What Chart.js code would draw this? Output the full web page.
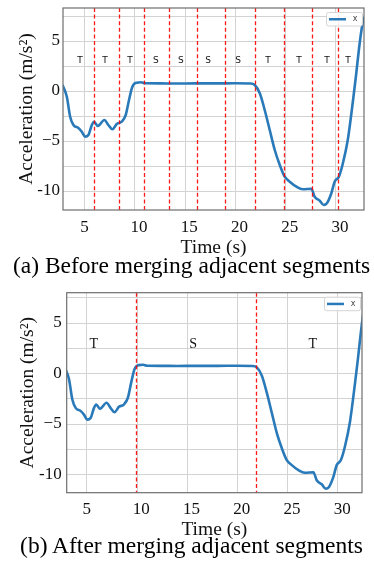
<!DOCTYPE html>
<html>
<head>
<meta charset="utf-8">
<script src="https://cdn.jsdelivr.net/npm/chart.js@4.4.1/dist/chart.umd.min.js"></script>
<style>
    html, body { margin: 0; padding: 0; background: #fff; overflow: hidden; }
    #wrap { position: relative; width: 374px; height: 567px; }
    canvas { position: absolute; left: 0; }
    .cap {
        position: absolute; left: -8px; width: 399px; text-align: center;
        font-family: "Liberation Serif", serif; font-size: 23.5px; line-height: 1; color: #000;
        white-space: nowrap;
    }
</style>
</head>
<body>
<div id="wrap">
    <canvas id="chartA" width="374" height="262" style="top:0px"></canvas>
    <div class="cap" style="top:254px">(a) Before merging adjacent segments</div>
    <canvas id="chartB" width="374" height="262" style="top:284px"></canvas>
    <div class="cap" style="top:534px">(b) After merging adjacent segments</div>
</div>
<script>
// acceleration signal
const timeS = [2.8, 3.23, 3.56, 3.89, 4.38, 4.72, 5.05, 5.38, 5.72, 5.94, 6.31, 6.97, 7.36, 7.76, 8.2, 8.69, 9.09, 9.42, 9.75, 10.18,
    10.61, 11.0, 12.5, 14, 16, 18, 20, 21.5, 21.93, 22.43, 22.92, 23.42, 23.92, 24.42, 24.91, 25.41, 26.07, 26.73, 27.56, 27.89,
    28.39, 28.79, 29.11, 29.55, 29.88, 30.3, 30.7, 31.2, 31.7, 32.0, 32.3, 32.55, 32.8];
const accelX = [0.6, -0.57, -2.57, -3.4, -3.7, -4.07, -4.57, -4.4, -3.4, -3.07, -3.5, -2.9, -3.4, -3.83, -3.3, -3.07, -2.4, -0.9, 0.43, 0.83,
    0.87, 0.77, 0.76, 0.75, 0.76, 0.76, 0.77, 0.75, 0.6, -0.23, -1.9, -3.9, -5.9, -7.4, -8.57, -9.07, -9.57, -9.83, -9.77, -10.57,
    -10.97, -11.4, -11.23, -10.23, -9.07, -8.57, -7.23, -4.8, -1.0, 1.5, 4.2, 6.1, 7.4];

// ticks
const xTicks = [5, 10, 15, 20, 25, 30];
const xTickLabels = ['5', '10', '15', '20', '25', '30'];
const yGrid = [-10, -7.5, -5, -2.5, 0, 2.5, 5, 7.5];
const yTickLabels = ['-10', '', '−5', '', '0', '', '5', ''];

// (a) segment boundaries and labels
const boundsA = [5.96, 8.45, 10.86, 13.41, 16.22, 19.0, 21.95, 24.83, 27.64, 30.22];
const segLabelsA = ['T', 'T', 'T', 'S', 'S', 'S', 'S', 'T', 'T', 'T', 'T'];
const segCentersA = [4.55, 7.04, 9.52, 12.1, 14.58, 17.29, 20.27, 23.25, 26.33, 29.11, 31.2];
const segLevelA = 3.0;

// (b) merged segments
const boundsB = [9.9, 21.85];
const segLabelsB = ['T', 'S', 'T'];
const segCentersB = [5.7, 15.6, 27.5];
const segLevelB = 2.85;

const seriesName = 'x';

// draws dashed boundaries, segment letters, frame and legend
const segmentPlugin = {
    id: 'segments',
    afterDatasetsDraw(chart, args, opts) {
        const { ctx, chartArea: a, scales } = chart;
        ctx.save();
        ctx.beginPath();
        ctx.rect(a.left, a.top, a.width, a.height);
        ctx.clip();
        ctx.strokeStyle = 'rgba(255, 0, 0, 0.9)';
        ctx.lineWidth = 1.3;
        ctx.setLineDash([4, 2.6]);
        opts.bounds.forEach(function (t) {
            const px = Math.round(scales.x.getPixelForValue(t)) + 0.5;
            ctx.beginPath();
            ctx.moveTo(px, a.top);
            ctx.lineTo(px, a.bottom);
            ctx.stroke();
        });
        ctx.setLineDash([]);
        ctx.fillStyle = '#111';
        ctx.font = opts.font;
        ctx.textAlign = 'center';
        ctx.textBaseline = 'middle';
        opts.labels.forEach(function (lab, i) {
            ctx.fillText(lab, scales.x.getPixelForValue(opts.centers[i]), scales.y.getPixelForValue(opts.level));
        });
        ctx.restore();
    },
    afterDraw(chart) {
        const { ctx, chartArea: a } = chart;
        ctx.save();
        // frame
        ctx.strokeStyle = '#6e6e6e';
        ctx.lineWidth = 1.2;
        ctx.strokeRect(a.left, a.top, a.width, a.height);
        // legend box
        const ds = chart.data.datasets[0];
        const bw = 36, bh = 13.5;
        const bx = a.right - 2 - bw, by = a.top + 4;
        ctx.fillStyle = 'rgba(255,255,255,0.9)';
        ctx.strokeStyle = '#d4d4d4';
        ctx.lineWidth = 1;
        ctx.beginPath();
        ctx.roundRect(bx + 0.5, by + 0.5, bw, bh, 2);
        ctx.fill();
        ctx.stroke();
        ctx.strokeStyle = ds.borderColor;
        ctx.lineWidth = 2.5;
        ctx.beginPath();
        ctx.moveTo(bx + 3, by + bh / 2 + 0.5);
        ctx.lineTo(bx + 20, by + bh / 2 + 0.5);
        ctx.stroke();
        ctx.fillStyle = '#444';
        ctx.font = '8px "DejaVu Sans"';
        ctx.textAlign = 'center';
        ctx.textBaseline = 'middle';
        ctx.fillText(ds.label, bx + 29, by + bh / 2);
        ctx.restore();
    }
};

function makeChart(id, cfg) {
    const points = timeS.map(function (t, i) { return { x: t, y: accelX[i] }; });
    return new Chart(document.getElementById(id).getContext('2d'), {
        type: 'line',
        data: {
            datasets: [{
                label: seriesName,
                data: points,
                borderColor: '#2a7ab9',
                borderWidth: 2.6,
                pointRadius: 0,
                cubicInterpolationMode: 'monotone',
                fill: false
            }]
        },
        options: {
            responsive: false,
            animation: false,
            devicePixelRatio: 1,
            layout: { padding: { top: cfg.padTop, right: cfg.padRight, left: 0, bottom: 0 } },
            plugins: {
                legend: { display: false },
                tooltip: { enabled: false },
                segments: {
                    bounds: cfg.bounds, labels: cfg.labels, centers: cfg.centers,
                    level: cfg.level, font: cfg.labelFont
                }
            },
            scales: {
                x: {
                    type: 'linear',
                    min: cfg.xMin,
                    max: cfg.xMax,
                    afterBuildTicks: function (s) { s.ticks = xTicks.map(function (v) { return { value: v }; }); },
                    afterFit: function (s) { s.height = cfg.xAxisH; s.paddingLeft = 0; s.paddingRight = 0; },
                    grid: { color: '#d3d3d3', lineWidth: 1, drawTicks: false },
                    border: { display: false },
                    ticks: {
                        padding: 7,
                        color: '#111',
                        maxRotation: 0,
                        font: { family: 'Liberation Serif', size: 17 },
                        callback: function (v) {
                            const lab = xTickLabels[xTicks.indexOf(v)];
                            return lab.length > 1 ? '\u2007' + lab : lab;
                        }
                    },
                    title: {
                        display: true,
                        text: 'Time (s)',
                        color: '#111',
                        font: { family: 'Liberation Serif', size: 19.5 },
                        padding: { top: 0, bottom: cfg.xTitlePad }
                    }
                },
                y: {
                    min: cfg.yMin,
                    max: cfg.yMax,
                    afterBuildTicks: function (s) { s.ticks = yGrid.map(function (v) { return { value: v }; }); },
                    afterFit: function (s) { s.width = cfg.yAxisW; s.paddingTop = 0; s.paddingBottom = 0; },
                    grid: { color: '#d3d3d3', lineWidth: 1, drawTicks: false },
                    border: { display: false },
                    ticks: {
                        padding: cfg.yTickPad,
                        color: '#111',
                        font: { family: 'Liberation Serif', size: 17 },
                        callback: function (v) { return yTickLabels[yGrid.indexOf(v)]; }
                    },
                    title: {
                        display: true,
                        text: 'Acceleration (m/s²)',
                        color: '#111',
                        font: { family: 'Liberation Serif', size: 19.5 },
                        padding: { top: cfg.yTitlePad, bottom: 0 }
                    }
                }
            }
        },
        plugins: [segmentPlugin]
    });
}

document.addEventListener('DOMContentLoaded', function () {
    // (a) before merging
    makeChart('chartA', {
        padTop: 8, padRight: 10, xAxisH: 52, yAxisW: 63,
        xMin: 2.85, xMax: 32.8, yMin: -11.9, yMax: 8.3,
        xTitlePad: 2, yTitlePad: 15, yTickPad: 3,
        bounds: boundsA, labels: segLabelsA, centers: segCentersA, level: segLevelA,
        labelFont: '9px "DejaVu Sans"'
    });
    // (b) after merging
    makeChart('chartB', {
        padTop: 8.7, padRight: 12, xAxisH: 53.3, yAxisW: 66.7,
        xMin: 3.0, xMax: 32.4, yMin: -11.8, yMax: 8.0,
        xTitlePad: 4.3, yTitlePad: 16.3, yTickPad: 5,
        bounds: boundsB, labels: segLabelsB, centers: segCentersB, level: segLevelB,
        labelFont: '14px "Liberation Serif"'
    });
});
</script>
</body>
</html>
